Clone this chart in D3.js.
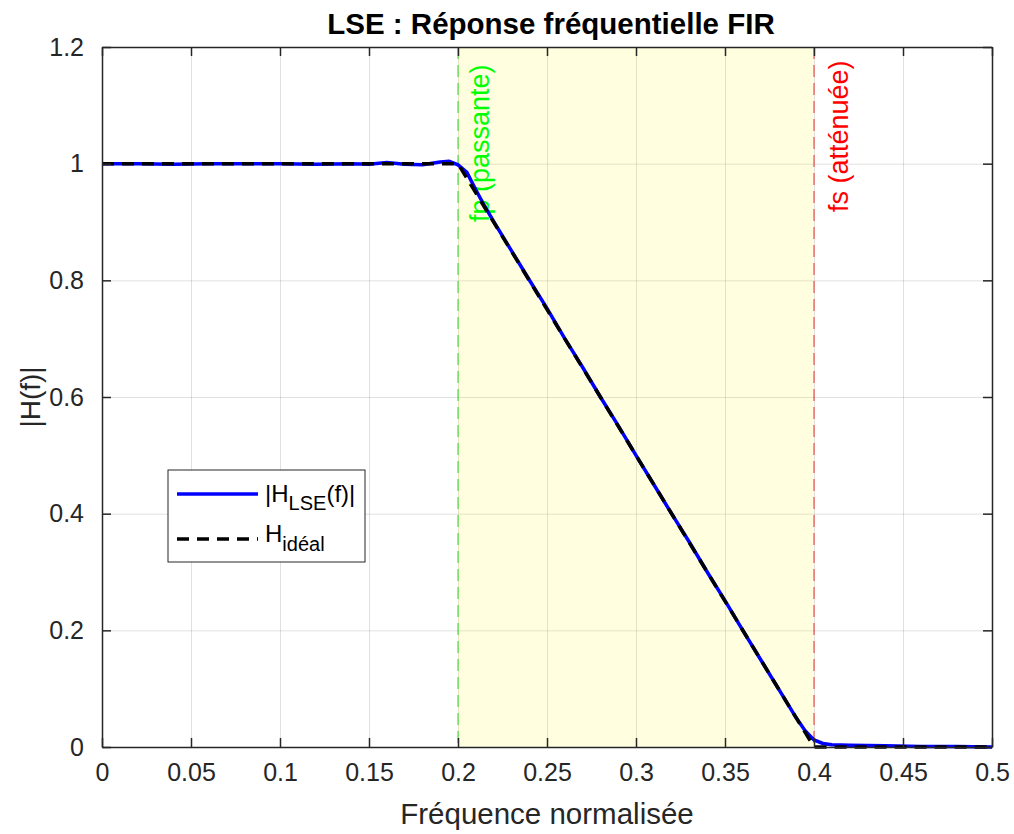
<html>
<head>
<script src="https://d3js.org/d3.v7.min.js"></script>
<style>
body { margin: 0; background: #fff; }
text { font-family: Arial, "Liberation Sans", sans-serif; }
.grid line { stroke: #000; stroke-opacity: 0.12; }
.grid .domain { stroke: none; }
.axis text { font-size: 25px; fill: #262626; }
.axis line, .axis path { stroke: #262626; stroke-width: 1.5; }
</style>
</head>
<body>
<svg id="chart" width="1014" height="834"></svg>
<script>
// values
const freq = [0, 0.02, 0.04, 0.06, 0.08, 0.10, 0.12, 0.14, 0.15, 0.16, 0.17, 0.18, 0.19, 0.195,
              0.2, 0.205, 0.21, 0.215, 0.22, 0.23, 0.24, 0.25, 0.26, 0.27, 0.28, 0.29, 0.30,
              0.31, 0.32, 0.33, 0.34, 0.35, 0.36, 0.37, 0.38, 0.39, 0.395, 0.4, 0.405, 0.41,
              0.42, 0.44, 0.46, 0.48, 0.5];
const hLse = [1.0, 1.0, 0.999, 1.0, 1.0, 1.0, 0.999, 1.0, 0.999, 1.002, 0.999, 0.998, 1.003, 1.004,
              0.998, 0.985, 0.955, 0.927, 0.901, 0.851, 0.801, 0.752, 0.70, 0.651, 0.60, 0.551, 0.50,
              0.45, 0.40, 0.351, 0.30, 0.251, 0.20, 0.15, 0.10, 0.05, 0.028, 0.012, 0.006, 0.004,
              0.003, 0.002, 0.001, 0.001, 0.0];
const freqIdeal = [0, 0.2, 0.4, 0.5];
const hIdeal = [1, 1, 0, 0];
const fp = 0.2, fs = 0.4;
const xTicks = [0, 0.05, 0.1, 0.15, 0.2, 0.25, 0.3, 0.35, 0.4, 0.45, 0.5];
const yTicks = [0, 0.2, 0.4, 0.6, 0.8, 1, 1.2];

const svg = d3.select('svg#chart');
const margins = {top: 47, right: 22, bottom: 87, left: 102};
const chartWidth = 1014 - margins.left - margins.right;
const chartHeight = 834 - margins.top - margins.bottom;

const x = d3.scaleLinear().domain([0, 0.5]).range([0, chartWidth]);
const y = d3.scaleLinear().domain([0, 1.2]).range([chartHeight, 0]);

const g = svg.append('g').attr('transform', `translate(${margins.left},${margins.top})`);

// grid
g.append('g').attr('class', 'grid')
    .call(d3.axisBottom(x).tickValues(xTicks).tickSize(chartHeight).tickFormat(''));
g.append('g').attr('class', 'grid')
    .call(d3.axisLeft(y).tickValues(yTicks).tickSize(-chartWidth).tickFormat(''));

// transition band
g.append('rect')
    .attr('x', x(fp)).attr('y', 0)
    .attr('width', x(fs) - x(fp)).attr('height', chartHeight)
    .attr('fill', '#ffff00').attr('fill-opacity', 0.12);

g.append('line')
    .attr('x1', x(fp)).attr('x2', x(fp)).attr('y1', 0).attr('y2', chartHeight)
    .attr('stroke', '#00dd00').attr('stroke-opacity', 0.6).attr('stroke-width', 1.5)
    .attr('stroke-dasharray', '12,6');
g.append('line')
    .attr('x1', x(fs)).attr('x2', x(fs)).attr('y1', 0).attr('y2', chartHeight)
    .attr('stroke', '#ee0000').attr('stroke-opacity', 0.55).attr('stroke-width', 1.5)
    .attr('stroke-dasharray', '12,6');

g.append('text')
    .attr('transform', `translate(${x(fp) + 31},${y(0.9)}) rotate(-90)`)
    .attr('font-size', '27px').attr('fill', '#00ff00')
    .text('fp (passante)');
g.append('text')
    .attr('transform', `translate(${x(fs) + 34},${y(0.917)}) rotate(-90)`)
    .attr('font-size', '27px').attr('fill', '#ff0000')
    .text('fs (atténuée)');

// curves
const lseData = freq.map((f, i) => [f, hLse[i]]);
const idealData = freqIdeal.map((f, i) => [f, hIdeal[i]]);
const line = d3.line().x(d => x(d[0])).y(d => y(d[1]));

g.append('path').datum(lseData)
    .attr('d', line).attr('fill', 'none')
    .attr('stroke', '#0000ff').attr('stroke-width', 3.5);
g.append('path').datum(idealData)
    .attr('d', line).attr('fill', 'none')
    .attr('stroke', '#000').attr('stroke-width', 3.5)
    .attr('stroke-dasharray', '12,8');

// axes with inward ticks on all sides
g.append('g').attr('class', 'axis')
    .attr('transform', `translate(0,${chartHeight})`)
    .call(d3.axisBottom(x).tickValues(xTicks).tickSizeInner(-9).tickSizeOuter(0).tickPadding(16)
        .tickFormat(d => String(d)));
g.append('g').attr('class', 'axis')
    .call(d3.axisLeft(y).tickValues(yTicks).tickSizeInner(-9).tickSizeOuter(0).tickPadding(18)
        .tickFormat(d => String(+d.toFixed(1))));
g.append('g').attr('class', 'axis')
    .call(d3.axisTop(x).tickValues(xTicks).tickSizeInner(-9).tickSizeOuter(0).tickFormat(''));
g.append('g').attr('class', 'axis')
    .attr('transform', `translate(${chartWidth},0)`)
    .call(d3.axisRight(y).tickValues(yTicks).tickSizeInner(-9).tickSizeOuter(0).tickFormat(''));

// titles
svg.append('text')
    .attr('x', margins.left + chartWidth / 2 + 4).attr('y', 34)
    .attr('text-anchor', 'middle').attr('font-size', '29.5px').attr('font-weight', 'bold')
    .attr('fill', '#000')
    .text('LSE : Réponse fréquentielle FIR');
svg.append('text')
    .attr('x', margins.left + chartWidth / 2).attr('y', 824)
    .attr('text-anchor', 'middle').attr('font-size', '29.5px').attr('fill', '#262626')
    .text('Fréquence normalisée');
svg.append('text')
    .attr('transform', `translate(40,${margins.top + chartHeight / 2}) rotate(-90)`)
    .attr('text-anchor', 'middle').attr('font-size', '28px').attr('fill', '#262626')
    .text('|H(f)|');

// legend
const legend = svg.append('g').attr('transform', 'translate(168,470)');
legend.append('rect')
    .attr('width', 197).attr('height', 92)
    .attr('fill', '#fff').attr('stroke', '#262626').attr('stroke-width', 1);
legend.append('line')
    .attr('x1', 9).attr('x2', 90).attr('y1', 24).attr('y2', 24)
    .attr('stroke', '#0000ff').attr('stroke-width', 3.5);
legend.append('line')
    .attr('x1', 9).attr('x2', 90).attr('y1', 69).attr('y2', 69)
    .attr('stroke', '#000').attr('stroke-width', 3.5).attr('stroke-dasharray', '12,8');

const t1 = legend.append('text').attr('x', 97).attr('y', 32).attr('font-size', '24px').attr('fill', '#000');
t1.append('tspan').text('|H');
t1.append('tspan').attr('font-size', '20px').attr('dy', 8).text('LSE');
t1.append('tspan').attr('dy', -8).text('(f)|');

const t2 = legend.append('text').attr('x', 97).attr('y', 72).attr('font-size', '24px').attr('fill', '#000');
t2.append('tspan').text('H');
t2.append('tspan').attr('font-size', '20px').attr('dy', 9).text('idéal');
</script>
</body>
</html>
